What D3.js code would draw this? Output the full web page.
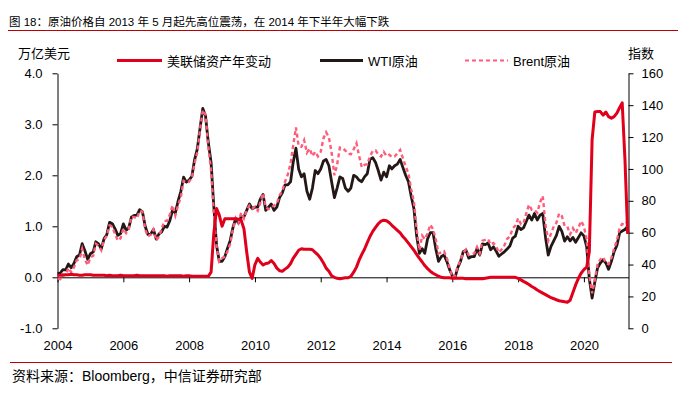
<!DOCTYPE html>
<html>
<head>
<meta charset="utf-8">
<script src="https://cdn.jsdelivr.net/npm/d3@7"></script>
<style>
  body { margin: 0; background: #fff; }
  text { font-family: "Liberation Sans", Arial, "Noto Sans CJK SC", sans-serif; fill: #000; }
</style>
</head>
<body>
<div id="chart"></div>
<script>
// monthly values, Jan 2004 .. May 2021
// 美联储资产年变动 (万亿美元, left axis)
const fedChange = [
  0.04,0.04,0.04,0.05,0.05,0.06,0.05,0.05,0.04,0.04,0.05,0.05,
  0.05,0.04,0.04,0.04,0.04,0.04,0.03,0.04,0.03,0.03,0.03,0.04,
  0.03,0.03,0.03,0.03,0.03,0.04,0.03,0.03,0.03,0.03,0.03,0.03,
  0.03,0.03,0.03,0.03,0.02,0.03,0.03,0.03,0.03,0.03,0.02,0.03,
  0.03,0.02,0.02,0.02,0.02,0.02,0.02,0.02,0.10,0.85,1.35,1.22,
  1.00,1.15,1.15,1.15,1.15,1.15,1.14,1.12,0.95,0.50,0.10,-0.02,
  0.25,0.37,0.30,0.24,0.27,0.28,0.33,0.27,0.18,0.13,0.12,0.16,
  0.20,0.27,0.37,0.45,0.53,0.56,0.55,0.55,0.55,0.54,0.49,0.44,
  0.37,0.28,0.18,0.12,0.03,0.00,-0.02,-0.03,-0.02,-0.01,-0.01,0.02,
  0.10,0.20,0.33,0.45,0.55,0.68,0.80,0.90,0.98,1.05,1.10,1.12,
  1.11,1.07,1.02,0.97,0.92,0.87,0.80,0.74,0.67,0.60,0.53,0.45,
  0.37,0.30,0.23,0.17,0.12,0.08,0.05,0.02,0.00,-0.01,-0.01,-0.01,
  -0.02,-0.02,-0.02,-0.02,-0.02,-0.03,-0.03,-0.03,-0.03,-0.03,-0.03,-0.03,
  -0.02,-0.01,0.00,0.00,0.00,0.00,0.00,0.00,0.00,0.00,0.00,0.00,
  -0.02,-0.05,-0.08,-0.11,-0.14,-0.18,-0.21,-0.25,-0.28,-0.31,-0.34,-0.37,
  -0.40,-0.42,-0.44,-0.46,-0.47,-0.48,-0.49,-0.45,-0.30,-0.15,-0.02,0.08,
  0.15,0.20,0.50,2.70,3.24,3.25,3.25,3.18,3.24,3.15,3.12,3.15,
  3.22,3.33,3.42,2.30,0.85
];

// WTI原油 (USD, right axis)
const wti = [
  34.3,34.7,36.8,36.7,40.3,38.0,40.7,44.9,46.0,53.1,48.5,43.3,
  46.8,48.0,54.3,53.0,49.8,56.3,58.7,66.5,65.6,62.4,58.3,59.4,
  65.5,61.6,62.9,69.7,70.9,71.0,74.4,73.1,63.9,58.9,59.1,62.0,
  56.0,59.3,60.4,64.0,63.5,67.5,74.1,72.4,79.9,85.8,94.8,91.7,
  93.0,95.4,105.5,112.6,125.4,138.0,133.4,116.7,104.1,76.6,52.0,42.0,
  42.0,45.0,50.0,55.0,63.0,69.0,66.0,70.0,70.0,74.0,78.0,75.0,
  76.0,76.0,81.0,84.0,74.0,76.0,78.0,74.0,76.0,82.0,85.0,90.0,
  90.0,92.0,104.0,113.0,100.0,95.0,97.0,86.0,81.0,88.0,99.0,97.0,
  100.0,105.0,106.0,102.0,92.0,82.0,88.0,95.0,94.0,88.0,86.0,88.0,
  96.0,95.0,93.0,92.0,95.0,97.0,106.0,107.0,104.0,99.0,93.0,98.0,
  95.0,102.0,100.0,102.0,103.0,106.0,101.0,96.0,92.0,83.0,75.0,58.0,
  47.0,50.0,47.0,56.0,60.0,60.0,50.0,42.0,45.0,46.0,42.0,37.0,
  33.0,32.0,38.0,42.0,48.0,49.0,44.0,45.0,45.0,50.0,46.0,53.0,
  52.5,53.5,49.3,51.1,48.5,45.2,46.6,48.0,49.8,51.6,56.6,57.9,
  64.0,62.0,63.0,67.0,71.0,68.0,72.0,68.0,71.0,72.0,57.0,46.0,
  51.4,55.0,58.2,63.9,60.8,54.7,57.4,54.8,57.0,54.0,57.0,59.9,
  58.0,51.0,31.0,19.0,29.0,38.0,41.0,43.0,41.0,37.0,42.0,48.0,
  52.0,60.0,61.0,62.0,64.0
];

// Brent原油 (USD, right axis)
const brent = [
  31.2,30.9,33.8,33.4,37.9,35.2,38.2,42.7,43.2,49.8,43.1,39.6,
  44.5,45.5,53.1,51.9,49.0,55.6,57.9,64.5,63.7,59.0,55.0,56.5,
  62.5,59.7,62.1,70.1,69.8,68.9,73.7,73.2,61.9,57.7,58.8,62.0,
  55.0,57.6,62.1,67.4,67.5,71.3,77.2,70.8,77.2,82.3,92.5,91.5,
  92.0,94.8,103.3,110.4,124.6,137.0,133.9,113.9,99.1,72.8,51.0,42.0,
  44.0,45.0,48.0,53.0,62.0,69.0,66.0,72.5,69.0,74.0,77.0,75.0,
  76.2,73.8,78.8,84.8,75.9,74.8,75.6,77.1,78.2,83.5,86.1,92.0,
  96.5,103.7,114.6,126.0,114.5,113.9,118.0,110.2,112.8,108.0,110.8,107.9,
  110.7,119.3,123.0,119.8,110.3,96.0,102.6,113.4,113.0,111.5,109.5,109.2,
  112.3,116.1,108.5,101.0,102.6,102.9,107.9,111.3,111.6,109.1,107.8,110.8,
  108.1,108.9,107.5,107.8,109.7,111.9,106.8,101.6,97.1,87.4,79.4,62.3,
  49.0,58.1,55.9,59.5,65.0,62.3,55.9,47.0,47.6,48.4,44.3,38.0,
  32.0,33.0,39.0,42.5,47.5,49.5,46.0,46.5,47.0,51.0,47.0,55.0,
  55.5,56.0,52.5,53.5,51.5,47.5,49.5,52.0,56.2,57.5,62.7,64.4,
  69.1,65.3,66.0,72.1,77.5,74.4,74.3,72.5,79.0,83.0,64.8,55.0,
  59.4,64.0,66.1,72.0,70.5,64.2,63.9,59.0,62.8,59.7,63.2,67.3,
  64.0,55.7,33.0,22.0,30.5,40.3,43.2,44.7,40.9,40.2,44.0,50.0,
  55.0,63.0,65.5,65.0,67.0
];

const leftTicks = [-1, 0, 1, 2, 3, 4];
const rightTicks = [0, 20, 40, 60, 80, 100, 120, 140, 160];
const legendNames = ["美联储资产年变动", "WTI原油", "Brent原油"];

const width = 685, height = 398;
const red = "#e0001b", black = "#231815", pink = "#ff5c7a";

const svg = d3.select("#chart").append("svg")
    .attr("width", width)
    .attr("height", height);

const start = new Date(2004, 0, 1);
const dates = d3.range(wti.length).map(i => d3.timeMonth.offset(start, i));

const x = d3.scaleTime([new Date(2004, 0, 1), new Date(2021, 4, 10)], [57.5, 628.5]);
const yL = d3.scaleLinear([-1, 4], [328.3, 73.3]);
const yR = d3.scaleLinear([0, 160], [328.3, 73.3]);

// title + rules
svg.append("text").attr("x", 9).attr("y", 26)
    .style("font-size", "11.5px")
    .text("图 18：原油价格自 2013 年 5 月起先高位震荡，在 2014 年下半年大幅下跌");
svg.append("line").attr("x1", 8).attr("x2", 678).attr("y1", 30.5).attr("y2", 30.5)
    .attr("stroke", "#c00000").attr("stroke-width", 1.2);
svg.append("line").attr("x1", 10).attr("x2", 672).attr("y1", 362.5).attr("y2", 362.5)
    .attr("stroke", "#c00000").attr("stroke-width", 1.2);
svg.append("text").attr("x", 12).attr("y", 381)
    .style("font-size", "14px")
    .text("资料来源：Bloomberg，中信证券研究部");

// axis titles
svg.append("text").attr("x", 18).attr("y", 57.5).style("font-size", "13px").text("万亿美元");
svg.append("text").attr("x", 628).attr("y", 57.5).style("font-size", "13px").text("指数");

function styleAxis(g) {
  g.select(".domain").attr("stroke", "#000");
  g.selectAll(".tick line").attr("stroke", "#000");
  g.selectAll(".tick text").style("font-size", "13px").attr("fill", "#000");
}

svg.append("g")
    .attr("transform", "translate(57.5,0)")
    .call(d3.axisLeft(yL).tickValues(leftTicks).tickFormat(d => d.toFixed(1))
      .tickSize(5).tickSizeOuter(0).tickPadding(10))
    .call(styleAxis);

svg.append("g")
    .attr("transform", "translate(628.5,0)")
    .call(d3.axisRight(yR).tickValues(rightTicks).tickSize(5).tickSizeOuter(0).tickPadding(8))
    .call(styleAxis);

svg.append("g")
    .attr("transform", `translate(0,${yL(0)})`)
    .call(d3.axisBottom(x).ticks(d3.timeYear.every(2)).tickFormat(d3.timeFormat("%Y"))
      .tickSize(5).tickSizeOuter(0).tickPadding(58))
    .call(styleAxis);

// lines
const lineR = d3.line().x((d, i) => x(dates[i])).y(d => yR(d));
const lineL = d3.line().x((d, i) => x(dates[i])).y(d => yL(d));

svg.append("path").datum(wti)
    .attr("d", lineR).attr("fill", "none")
    .attr("stroke", black).attr("stroke-width", 2.8).attr("stroke-linejoin", "round");
svg.append("path").datum(brent)
    .attr("d", lineR).attr("fill", "none")
    .attr("stroke", pink).attr("stroke-width", 2.4).attr("stroke-dasharray", "4,3");
svg.append("path").datum(fedChange)
    .attr("d", lineL).attr("fill", "none")
    .attr("stroke", red).attr("stroke-width", 3).attr("stroke-linejoin", "round");

// legend
const legend = [
  {x1: 117, x2: 162, color: red, width: 3, dash: null},
  {x1: 320, x2: 363, color: black, width: 3, dash: null},
  {x1: 465, x2: 508, color: pink, width: 2.2, dash: "4,3"}
];
legend.forEach((l, i) => {
  svg.append("line").attr("x1", l.x1).attr("x2", l.x2).attr("y1", 60.5).attr("y2", 60.5)
      .attr("stroke", l.color).attr("stroke-width", l.width)
      .attr("stroke-dasharray", l.dash);
  svg.append("text").attr("x", l.x2 + 5).attr("y", 65.5)
      .style("font-size", "13px").text(legendNames[i]);
});
</script>
</body>
</html>
